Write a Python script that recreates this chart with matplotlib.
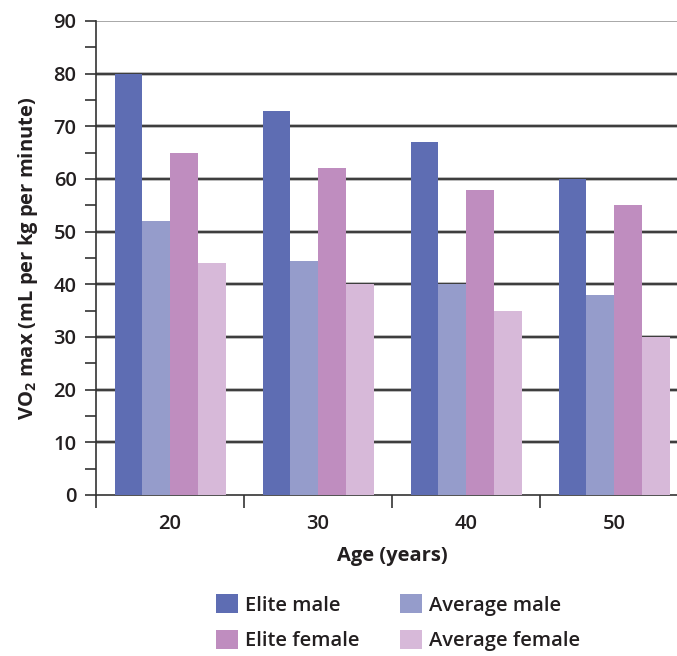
import matplotlib
matplotlib.use("Agg")
import matplotlib.pyplot as plt
from matplotlib.patches import Patch
import numpy as np

ages = ["20", "30", "40", "50"]
elite_male = [80, 73, 67, 60]
average_male = [52, 44.5, 40, 38]
elite_female = [65, 62, 58, 55]
average_female = [44, 40, 35, 30]
y_ticks = [0, 10, 20, 30, 40, 50, 60, 70, 80, 90]

series = [
    ("Elite male", elite_male, "#5E6DB3"),
    ("Average male", average_male, "#959CCB"),
    ("Elite female", elite_female, "#BF8DBF"),
    ("Average female", average_female, "#D7B9D9"),
]

plt.rcParams["font.family"] = ["Open Sans", "DejaVu Sans"]
plt.rcParams["mathtext.fontset"] = "custom"
plt.rcParams["mathtext.bf"] = "Open Sans:bold"
plt.rcParams["mathtext.rm"] = "Open Sans"

fig = plt.figure(figsize=(6.77, 6.56), dpi=100)
ax = fig.add_axes([96 / 677, 1 - 495 / 656, (688 - 96) / 677, (495 - 21) / 656])

x = np.arange(len(ages))
width = 0.1875
for i, (name, vals, color) in enumerate(series):
    ax.bar(x + (i - 1.5) * width, vals, width, color=color, zorder=3, label=name)

# horizontal gridlines
for v in y_ticks[1:-1]:
    ax.axhline(v, color="#aaaaaa", lw=2.6, zorder=1)
    ax.axhline(v, color="#333333", lw=1.3, zorder=2)
ax.axhline(90, color="#999999", lw=1.2, zorder=2)

ax.set_xlim(-0.5, 3.5)
ax.set_ylim(0, 90)

ax.set_yticks(y_ticks)
ax.set_yticks(np.arange(5, 90, 10), minor=True)
ax.tick_params(axis="y", which="both", direction="out", length=8, width=1.2,
               color="#333333", labelsize=14.5, pad=6)
ax.set_xticks(x)
ax.set_xticklabels(ages)
ax.set_xticks(np.arange(-0.5, 4, 1), minor=True)
ax.tick_params(axis="x", which="major", length=0, labelsize=14.5, pad=14)
ax.tick_params(axis="x", which="minor", direction="out", length=9, width=1.2,
               color="#333333")
for lab in ax.get_xticklabels() + ax.get_yticklabels():
    lab.set_fontweight("semibold")
    lab.set_color("#231f20")

for s in ["top", "right"]:
    ax.spines[s].set_visible(False)
for s in ["left", "bottom"]:
    ax.spines[s].set_color("#333333")
    ax.spines[s].set_linewidth(1.2)

ax.set_ylabel(r"VO$_\mathbf{2}$ max (mL per kg per minute)", fontsize=14.5,
              fontweight="bold", color="#231f20", labelpad=10)
ax.set_xlabel("Age (years)", fontsize=14.5, fontweight="bold", color="#231f20",
              labelpad=8)

handles = [Patch(facecolor=c, label=n) for n, _, c in series]
order = [0, 2, 1, 3]
leg = fig.legend([handles[i] for i in order], [series[i][0] for i in order],
                 ncol=2, loc="upper left", bbox_to_anchor=(198 / 677, 1 - 576 / 656),
                 frameon=False, fontsize=14.5, handlelength=1.1, handleheight=1.1,
                 handletextpad=0.35, columnspacing=2.0, labelspacing=0.7)
for t in leg.get_texts():
    t.set_fontweight("semibold")
    t.set_color("#231f20")

fig.savefig("out.png", dpi=100)
